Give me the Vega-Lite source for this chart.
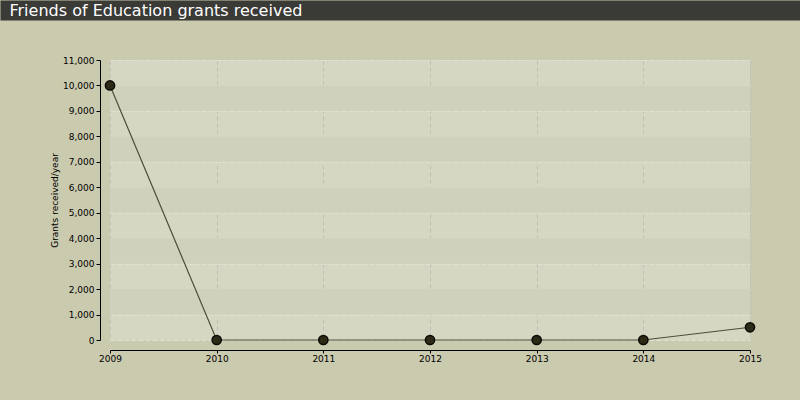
{
  "$schema": "https://vega.github.io/schema/vega-lite/v6.json",
  "width": 640,
  "height": 280,
  "autosize": {"type": "none"},
  "padding": {"left": 110, "top": 60, "right": 50, "bottom": 60},
  "background": "#cacaae",
  "config": {
    "view": {"fill": "#d6d7c3", "stroke": null},
    "font": "DejaVu Sans"
  },
  "datasets": {
    "grants": [
      {"year": 2009, "grants": 10000},
      {"year": 2010, "grants": 0},
      {"year": 2011, "grants": 0},
      {"year": 2012, "grants": 0},
      {"year": 2013, "grants": 0},
      {"year": 2014, "grants": 0},
      {"year": 2015, "grants": 500}
    ],
    "bands": [
      {"lo": 1000, "hi": 2000},
      {"lo": 3000, "hi": 4000},
      {"lo": 5000, "hi": 6000},
      {"lo": 7000, "hi": 8000},
      {"lo": 9000, "hi": 10000}
    ]
  },
  "resolve": {"scale": {"x": "independent"}, "axis": {"x": "independent", "y": "independent"}},
  "layer": [
    {
      "data": {"name": "bands"},
      "mark": {"type": "rect", "fill": "#d0d1bc"},
      "encoding": {
        "y": {
          "field": "lo", "type": "quantitative",
          "scale": {"domain": [0, 11000], "nice": false},
          "axis": null
        },
        "y2": {"field": "hi"}
      }
    },
    {
      "data": {"name": "grants"},
      "mark": {"type": "line", "stroke": "#4d4c39", "strokeWidth": 1.2},
      "encoding": {
        "x": {
          "field": "year", "type": "quantitative",
          "scale": {"domain": [2009, 2015], "nice": false, "zero": false},
          "axis": {
            "values": [2009, 2010, 2011, 2012, 2013, 2014, 2015],
            "format": "d",
            "title": null,
            "offset": 10,
            "domainColor": "#000000",
            "tickColor": "#000000",
            "tickSize": 3,
            "labelPadding": 1,
            "labelFontSize": 9,
            "labelColor": "#000000",
            "labelFlush": false,
            "grid": true,
            "gridColor": "#c0c0b8",
            "gridDash": [4, 3]
          }
        },
        "y": {
          "field": "grants", "type": "quantitative",
          "axis": {
            "orient": "left",
            "values": [0, 1000, 2000, 3000, 4000, 5000, 6000, 7000, 8000, 9000, 10000, 11000],
            "format": ",d",
            "labelOverlap": false,
            "title": "Grants received/year",
            "titleFontSize": 9,
            "titleFontWeight": "normal",
            "titleColor": "#000000",
            "titlePadding": 3,
            "offset": 10,
            "domainColor": "#000000",
            "tickColor": "#000000",
            "tickSize": 4,
            "labelPadding": 2,
            "labelFontSize": 9,
            "labelColor": "#000000",
            "grid": true,
            "gridColor": "#e0e1d3",
            "gridDash": [5, 2]
          }
        }
      }
    },
    {
      "data": {"name": "grants"},
      "mark": {"type": "point", "filled": true, "size": 85, "fill": "#2d2a17", "stroke": "#0b0b06", "strokeWidth": 1.5, "opacity": 1},
      "encoding": {
        "x": {
          "field": "year", "type": "quantitative",
          "scale": {"domain": [2009, 2015], "nice": false, "zero": false},
          "axis": null
        },
        "y": {"field": "grants", "type": "quantitative", "axis": null}
      }
    },
    {
      "data": {"name": "grants"},
      "mark": {"type": "point", "opacity": 0},
      "encoding": {
        "x": {
          "field": "year", "type": "quantitative",
          "scale": {"range": [-110, 690], "nice": false, "zero": false},
          "axis": {
            "orient": "top",
            "offset": 50,
            "ticks": false,
            "labels": false,
            "grid": false,
            "domainWidth": 20,
            "domainColor": "#3a3a36",
            "title": "Friends of Education grants received",
            "titleAnchor": "start",
            "titleAlign": "left",
            "titleBaseline": "alphabetic",
            "titleX": -101,
            "titleY": 5,
            "titleColor": "#ffffff",
            "titleFontSize": 16,
            "titleFontWeight": "normal",
            "titleFont": "DejaVu Sans"
          }
        }
      }
    }
  ]
}
